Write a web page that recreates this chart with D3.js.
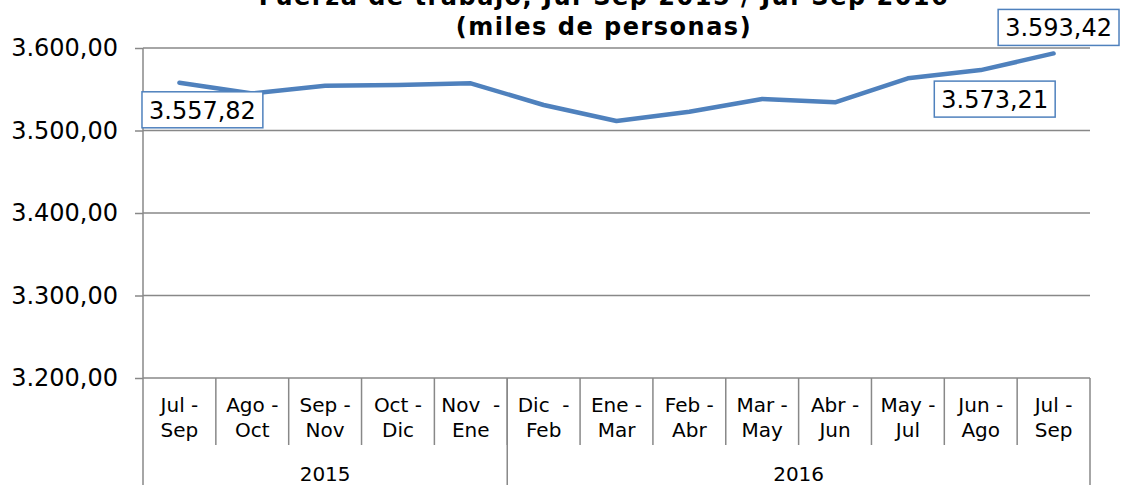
<!DOCTYPE html>
<html>
<head>
<meta charset="utf-8">
<script src="https://cdn.jsdelivr.net/npm/d3@7"></script>
<style>
  body { margin: 0; background: #fff; }
  svg { font-family: "DejaVu Sans", Verdana, sans-serif; }
</style>
</head>
<body>
<div class="chart"></div>
<script>
// data
let periods = [
    ["Jul -", "Sep"], ["Ago -", "Oct"], ["Sep -", "Nov"], ["Oct -", "Dic"], ["Nov  -", "Ene"],
    ["Dic  -", "Feb"], ["Ene -", "Mar"], ["Feb -", "Abr"], ["Mar -", "May"], ["Abr -", "Jun"],
    ["May -", "Jul"], ["Jun -", "Ago"], ["Jul -", "Sep"]
]
let years = ["2015", "2015", "2015", "2015", "2015",
    "2016", "2016", "2016", "2016", "2016", "2016", "2016", "2016"]
let values = [3557.82, 3544.8, 3554.3, 3555.2, 3557.2, 3530.9, 3511.5,
    3522.8, 3538.2, 3534.2, 3563.3, 3573.21, 3593.42]
let labelled = [0, 11, 12]
let yTicks = [3200, 3300, 3400, 3500, 3600]
let titleLines = ["Fuerza de trabajo, Jul-Sep 2015 / Jul-Sep 2016", "(miles de personas)"]

let outerWidth = 1123
let outerHeight = 485
let margin = {left: 143, right: 1090, top: 48, bottom: 378}

let es = d3.formatLocale({decimal: ",", thousands: ".", grouping: [3], currency: ["", ""]})
let fmt = es.format(",.2f")

let svg = d3.select(".chart")
    .append("svg")
    .attr("width", outerWidth)
    .attr("height", outerHeight)

let idx = values.map((d, i) => i)

let xScale = d3.scaleBand()
    .domain(idx)
    .range([margin.left, margin.right])
    .padding(0)

let yScale = d3.scaleLinear()
    .domain([3200, 3600])
    .range([margin.bottom, margin.top])

let gridColor = "#888888"

// gridlines
svg.append("g")
    .selectAll("line")
    .data(yTicks)
    .enter()
    .append("line")
    .attr("x1", margin.left)
    .attr("x2", margin.right)
    .attr("y1", d => yScale(d))
    .attr("y2", d => yScale(d))
    .attr("stroke", gridColor)
    .attr("stroke-width", 1.5)

// y axis
let yAxis = d3.axisLeft(yScale)
    .tickValues(yTicks)
    .tickSize(8)
    .tickPadding(17)
    .tickFormat(fmt)

let yg = svg.append("g")
    .attr("transform", `translate(${margin.left},0)`)
    .call(yAxis)
yg.select(".domain").remove()
yg.selectAll(".tick line").attr("stroke", gridColor).attr("stroke-width", 1.5)
yg.selectAll(".tick text")
    .attr("font-size", 24)
    .attr("font-family", "DejaVu Sans, Verdana, sans-serif")
    .attr("fill", "#000")

// left axis line goes down through the category rows
svg.append("line")
    .attr("x1", margin.left).attr("x2", margin.left)
    .attr("y1", margin.top).attr("y2", outerHeight)
    .attr("stroke", gridColor).attr("stroke-width", 1.5)

// category separators
let bounds = d3.range(1, values.length).map(i => xScale(i))
svg.append("g")
    .selectAll("line")
    .data(bounds)
    .enter()
    .append("line")
    .attr("x1", d => d).attr("x2", d => d)
    .attr("y1", margin.bottom).attr("y2", 445)
    .attr("stroke", gridColor).attr("stroke-width", 1.5)

// year groups
let yearGroups = d3.groups(idx, i => years[i]).map(([y, ids]) => ({
    year: y,
    x0: xScale(ids[0]),
    x1: xScale(ids[ids.length - 1]) + xScale.bandwidth()
}))

svg.append("g")
    .selectAll("line")
    .data(yearGroups)
    .enter()
    .append("line")
    .attr("x1", d => d.x1).attr("x2", d => d.x1)
    .attr("y1", margin.bottom).attr("y2", outerHeight)
    .attr("stroke", gridColor).attr("stroke-width", 1.5)

svg.append("g")
    .selectAll("text")
    .data(yearGroups)
    .enter()
    .append("text")
    .attr("x", d => (d.x0 + d.x1) / 2)
    .attr("y", 481)
    .attr("text-anchor", "middle")
    .attr("font-size", 20)
    .text(d => d.year)

// category labels
let cat = svg.append("g")
    .selectAll("text")
    .data(idx)
    .enter()
    .append("text")
    .attr("text-anchor", "middle")
    .attr("font-size", 20)
    .attr("xml:space", "preserve")
    .style("white-space", "pre")

cat.append("tspan")
    .attr("x", i => xScale(i) + xScale.bandwidth() / 2)
    .attr("y", 412)
    .text(i => periods[i][0])
cat.append("tspan")
    .attr("x", i => xScale(i) + xScale.bandwidth() / 2)
    .attr("y", 437)
    .text(i => periods[i][1])

// line
let line = d3.line()
    .x(i => xScale(i) + xScale.bandwidth() / 2)
    .y(i => yScale(values[i]))

svg.append("path")
    .datum(idx)
    .attr("d", line)
    .attr("fill", "none")
    .attr("stroke", "#4f81bd")
    .attr("stroke-width", 4.5)
    .attr("stroke-linejoin", "round")
    .attr("stroke-linecap", "round")

// data labels (offset of the box centre from the point, in px)
let offsets = {0: [23, 27], 11: [14, 29], 12: [5, -26]}
labelled.forEach(i => {
    let cx = xScale(i) + xScale.bandwidth() / 2 + offsets[i][0]
    let cy = yScale(values[i]) + offsets[i][1]
    let g = svg.append("g")
    let t = g.append("text")
        .attr("x", cx)
        .attr("y", cy + 9)
        .attr("text-anchor", "middle")
        .attr("font-size", 24)
        .text(fmt(values[i]))
    let bb = t.node().getBBox()
    g.insert("rect", "text")
        .attr("x", bb.x - 7)
        .attr("y", cy - 18)
        .attr("width", bb.width + 14)
        .attr("height", 36)
        .attr("fill", "#fff")
        .attr("stroke", "#4f81bd")
        .attr("stroke-width", 1.5)
})

// title
svg.append("text")
    .attr("text-anchor", "middle")
    .attr("font-size", 24)
    .attr("font-weight", "bold")
    .attr("letter-spacing", 1.5)
    .selectAll("tspan")
    .data(titleLines)
    .enter()
    .append("tspan")
    .attr("x", 604)
    .attr("y", (d, i) => 5 + i * 30)
    .text(d => d)
</script>
</body>
</html>
